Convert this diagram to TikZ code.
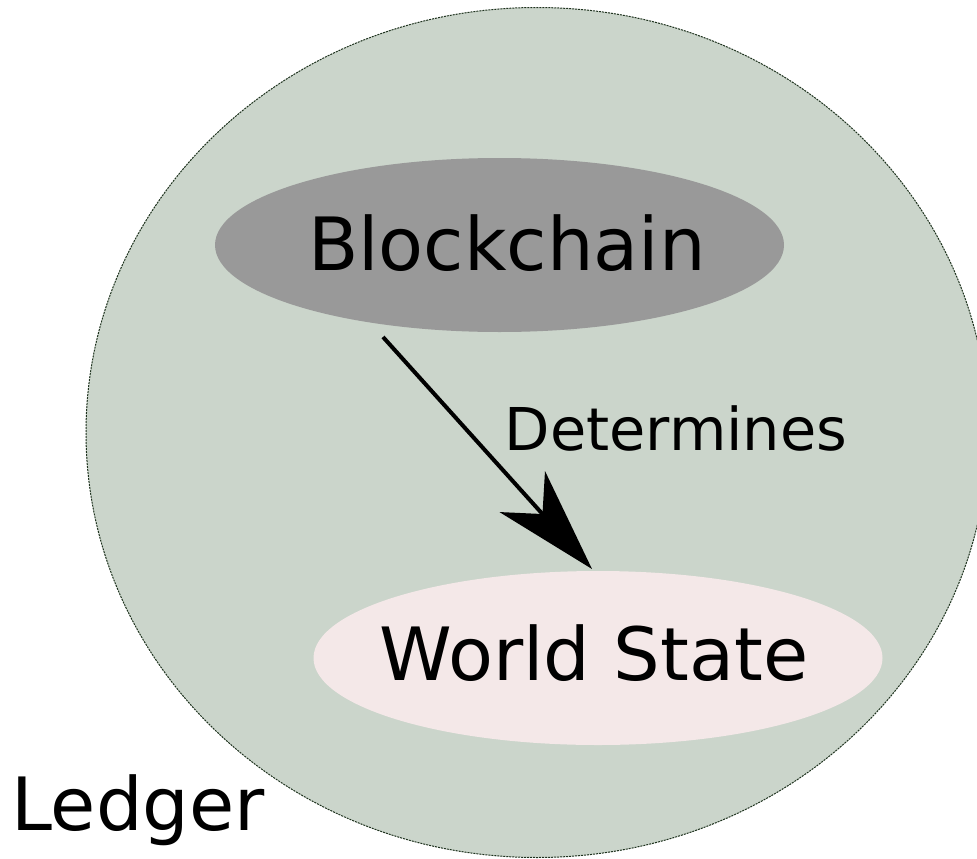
\documentclass[tikz,border=0pt]{standalone}
\usepackage{fontspec}
\setmainfont{DejaVu Sans}
\usetikzlibrary{shapes.geometric,arrows.meta}

\definecolor{ledgerfill}{RGB}{203,213,203}
\definecolor{ledgeredge}{RGB}{30,50,30}
\definecolor{chainfill}{RGB}{153,153,153}
\definecolor{statefill}{RGB}{244,232,232}

\tikzset{
  ledger/.style={ellipse, fill=ledgerfill, draw=ledgeredge, line width=1pt,
                 dash pattern=on 2pt off 1pt,
                 minimum width=902pt, minimum height=850pt, inner sep=0pt},
  blob/.style={ellipse, minimum width=569pt, minimum height=174pt, inner sep=0pt},
  biglabel/.style={font=\fontsize{73.5}{88}\selectfont, inner sep=0pt, anchor=base},
  smalllabel/.style={font=\fontsize{59}{71}\selectfont, inner sep=0pt, anchor=base},
  determines/.style={line width=4pt,
                     -{Stealth[length=104pt, width=61pt, inset=30pt]}}
}

\begin{document}
\begin{tikzpicture}[x=1pt, y=-1pt]
  \useasboundingbox (0,0) rectangle (977,859);

  % the ledger as a whole
  \node[ledger] (ledger) at (537,432.5) {};

  % its two parts
  \node[blob, fill=chainfill] (bc) at (499.5,245) {};
  \node[blob, fill=statefill] (ws) at (598,658) {};

  \node[biglabel] (bctext) at (507,270) {Blockchain};
  \node[biglabel] (wstext) at (594,680) {World State};

  % blockchain determines the world state
  \draw[determines] ([shift={(-116.5,92)}]bc.center)
                 -- ([shift={(-6,-89)}]ws.center);
  \node[smalllabel] (det) at (676,450) {Determines};

  \node[biglabel, anchor=base west] (ledgertext) at (11,830) {Ledger};
\end{tikzpicture}
\end{document}
